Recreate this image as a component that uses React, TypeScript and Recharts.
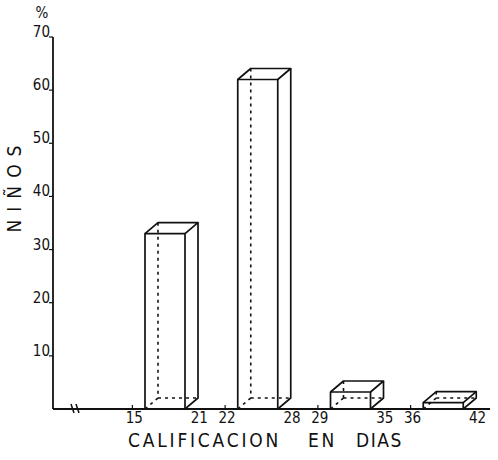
import React from 'react';
import { BarChart, Bar, XAxis, YAxis } from 'recharts';

const ranges = ['15-21', '22-28', '29-35', '36-42'];
const rangeStart = ['15', '22', '29', '36'];
const rangeEnd = ['21', '28', '35', '42'];
const percentNinos = [33, 62, 3.2, 1.2];
const yTicks = [10, 20, 30, 40, 50, 60, 70];
const xTitleWords = ['CALIFICACION', 'EN', 'DIAS'];
const yTitle = 'NIÑOS';
const yUnit = '%';

const data = ranges.map((r, i) => ({
  range: r,
  start: rangeStart[i],
  end: rangeEnd[i],
  value: percentNinos[i],
}));

const INK = '#111';
const DX = 13;
const DY = -11;
const FONT = '"DejaVu Sans Condensed", "DejaVu Sans", sans-serif';

const Box = (props: any) => {
  const { x, y, width: w, height: h } = props;
  if (x == null || y == null) return null;
  const b = y + h;
  const sw = 1.7;
  return (
    <g fill="none" stroke={INK} strokeWidth={sw} strokeLinejoin="round">
      {/* hidden edges */}
      <g strokeDasharray="3 4" strokeWidth={1.6}>
        <line x1={x + DX} y1={y + DY} x2={x + DX} y2={b + DY} />
        <line x1={x} y1={b} x2={x + DX} y2={b + DY} />
        <line x1={x + DX} y1={b + DY} x2={x + w + DX} y2={b + DY} />
      </g>
      {/* front face */}
      <rect x={x} y={y} width={w} height={h} />
      {/* top face */}
      <polyline points={`${x},${y} ${x + DX},${y + DY} ${x + w + DX},${y + DY} ${x + w},${y}`} />
      {/* right face */}
      <polyline points={`${x + w + DX},${y + DY} ${x + w + DX},${b + DY} ${x + w},${b}`} />
    </g>
  );
};

const XTick = (props: any) => {
  const { x, y, index } = props;
  const d = data[index];
  if (!d) return null;
  return (
    <g>
      <line x1={x - 33} y1={y - 4} x2={x - 33} y2={y} stroke={INK} strokeWidth={1.2} />
      <text x={x - 31} y={y + 14} textAnchor="middle" fontSize={15} fontFamily={FONT} fill={INK}>
        {d.start}
      </text>
      <text x={x + 34} y={y + 14} textAnchor="middle" fontSize={15} fontFamily={FONT} fill={INK}>
        {d.end}
      </text>
    </g>
  );
};

const YTick = (props: any) => {
  const { x, y, payload } = props;
  return (
    <g>
      <line x1={x - 4} y1={y} x2={x} y2={y} stroke={INK} strokeWidth={1.2} />
      <text x={x - 3} y={y} textAnchor="end" fontSize={15} fontFamily={FONT} fill={INK}>
        {payload.value}
      </text>
    </g>
  );
};

const XTitle = (props: any) => {
  const vb = props.viewBox || { x: 53, y: 409 };
  const vx = vb.x;
  const vy = vb.y;
  const offs = [75, 255, 303];
  const spacing = [2.8, 2.8, 1.5];
  return (
    <g>
      <line x1={vx + 18} y1={vy - 5} x2={vx + 21} y2={vy + 4} stroke={INK} strokeWidth={1.5} />
      <line x1={vx + 23} y1={vy - 5} x2={vx + 26} y2={vy + 4} stroke={INK} strokeWidth={1.5} />
      {xTitleWords.map((w, i) => (
        <text key={w} x={vx + offs[i]} y={vy + 38} fontSize={19} letterSpacing={spacing[i]} fontFamily={FONT} fill={INK}>
          {w}
        </text>
      ))}
    </g>
  );
};

const YTitle = (props: any) => {
  const vb = props.viewBox || { x: 0, y: 37, width: 53, height: 372 };
  const ax = vb.x + vb.width;
  const top = vb.y;
  return (
    <g>
      <text x={ax - 11} y={top - 19} textAnchor="middle" fontSize={15} fontFamily={FONT} fill={INK}>
        {yUnit}
      </text>
      <text
        transform={`translate(${ax - 32}, ${top + 148}) rotate(-90)`}
        textAnchor="middle"
        fontSize={19}
        letterSpacing={8}
        fontFamily={FONT}
        fill={INK}
      >
        {yTitle}
      </text>
    </g>
  );
};

export default function App() {
  return (
    <div style={{ position: 'absolute', left: 0, top: 0, width: 498, height: 460, background: '#fff' }}>
      <BarChart
        width={498}
        height={460}
        data={data}
        margin={{ top: 37, right: 8, bottom: 11, left: 0 }}
        barSize={40}
      >
        <XAxis
          dataKey="range"
          type="category"
          height={40}
          padding={{ left: 66, right: 0 }}
          axisLine={{ stroke: INK, strokeWidth: 1.8 }}
          tickLine={false}
          tickSize={0}
          tickMargin={0}
          tick={<XTick />}
          interval={0}
          label={(p: any) => <XTitle {...p} />}
        />
        <YAxis
          width={53}
          domain={[0, 70]}
          ticks={yTicks}
          axisLine={{ stroke: INK, strokeWidth: 1.8 }}
          tickLine={false}
          tickSize={0}
          tickMargin={0}
          tick={<YTick />}
          interval={0}
          allowDataOverflow
          label={(p: any) => <YTitle {...p} />}
        />
        <Bar dataKey="value" isAnimationActive={false} shape={<Box />} />
      </BarChart>
    </div>
  );
}
